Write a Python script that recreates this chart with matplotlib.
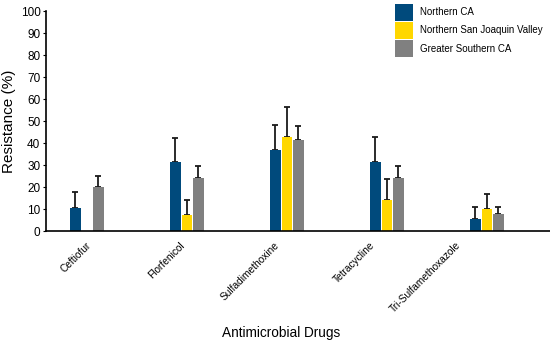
import numpy as np
import matplotlib.pyplot as plt
import matplotlib.transforms as mtransforms
from matplotlib.patches import Patch

plt.rcParams['font.family'] = ['Liberation Sans', 'DejaVu Sans']

drugs = ['Ceftiofur', 'Florfenicol', 'Sulfadimethoxine', 'Tetracycline', 'Tri-Sulfamethoxazole']
regions = ['Northern CA', 'Northern San Joaquin Valley', 'Greater Southern CA']
colors = ['#004A7C', '#FFD700', '#808080']

northern_ca = [10.3, 31.5, 36.7, 31.5, 5.3]
northern_ca_err = [7.4, 10.9, 11.5, 11.1, 5.6]
san_joaquin = [0, 7.1, 42.9, 14.1, 10.0]
san_joaquin_err = [0, 7.0, 13.3, 9.7, 7.0]
southern_ca = [19.8, 24.2, 41.4, 24.2, 7.7]
southern_ca_err = [5.2, 5.5, 6.2, 5.5, 3.2]

values = [northern_ca, san_joaquin, southern_ca]
errors = [northern_ca_err, san_joaquin_err, southern_ca_err]

# horizontal nudge (points) of each rotated label, as placed in the original
label_shift = [-0.5, -5.5, -9.5, -12.5, -22.5]

fig = plt.figure(figsize=(5.5, 3.45), dpi=100)
ax = fig.add_axes([0.0836, 0.3304, 0.9164, 0.6376])

x = np.arange(len(drugs))
w = 0.115
for i in range(3):
    vals = np.array(values[i])
    errs = np.array(errors[i])
    pos = x + (i - 1) * w
    ax.bar(pos, vals, width=w * 0.92, color=colors[i], label=regions[i], zorder=2)
    mask = vals > 0
    ax.errorbar(pos[mask], vals[mask], yerr=[np.zeros(mask.sum()), errs[mask]],
                fmt='none', ecolor='#1a1a1a', elinewidth=1.3, capsize=2.3, capthick=1.3, zorder=1)

ax.set_xlim(-0.41, 4.63)
ax.set_ylim(0, 100)
ax.set_yticks(range(0, 101, 10))
ax.set_xticks(x)
ax.set_xticklabels([])
ax.tick_params(axis='y', labelsize=8.5, length=2, pad=2)
ax.tick_params(axis='x', length=0)
for s in ['top', 'right']:
    ax.spines[s].set_visible(False)
ax.spines['left'].set_linewidth(1.2)
ax.spines['bottom'].set_linewidth(1.2)

# rotated drug names
base = ax.get_xaxis_transform()
for xi, name, dx in zip(x, drugs, label_shift):
    tr = mtransforms.offset_copy(base, fig=fig, x=dx, y=-6.5, units='points')
    ax.text(xi, 0, name, transform=tr, rotation=45, ha='right', va='top',
            rotation_mode='anchor', fontsize=7.3)

ax.set_ylabel('Resistance (%)', fontsize=11, labelpad=3)
fig.text(0.511, 0.035, 'Antimicrobial Drugs', ha='center', va='center', fontsize=9.8)

handles = [Patch(facecolor=c, edgecolor='none') for c in colors]
fig.legend(handles, regions, loc='upper left', bbox_to_anchor=(0.712, 1.0),
           frameon=False, fontsize=7, handlelength=1.75, handleheight=2.3,
           labelspacing=0.12, handletextpad=0.75, borderaxespad=0)

fig.savefig('out.png', dpi=100)
